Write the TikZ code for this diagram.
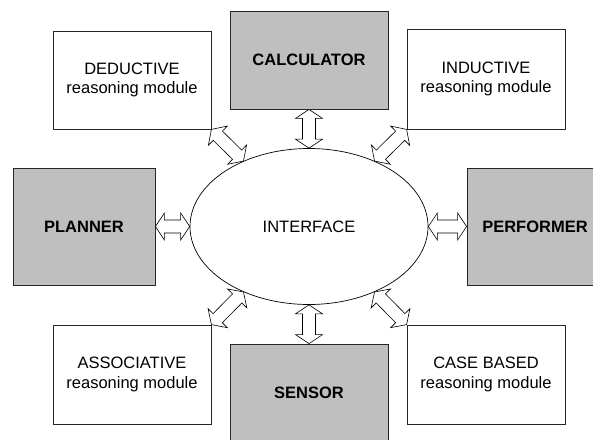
\documentclass[tikz,border=0pt]{standalone}
\usepackage{fontspec}
\setmainfont{Liberation Sans}
\usetikzlibrary{shapes.geometric,calc}
\newcommand{\hlen}{9pt}
\newcommand{\hwid}{13.5pt}
\newcommand{\swid}{6.5pt}
\newcommand{\dblarr}[2]{%
  \path (#1) coordinate (da-s) (#2) coordinate (da-e);
  \path ($(da-s)!\hlen!(da-e)$) coordinate (da-a) ($(da-e)!\hlen!(da-s)$) coordinate (da-b);
  \draw[blockarrow] (da-s) -- ($(da-a)!\hwid!90:(da-e)$) -- ($(da-a)!\swid!90:(da-e)$)
    -- ($(da-b)!\swid!-90:(da-s)$) -- ($(da-b)!\hwid!-90:(da-s)$) -- (da-e)
    -- ($(da-b)!\hwid!90:(da-s)$) -- ($(da-b)!\swid!90:(da-s)$)
    -- ($(da-a)!\swid!-90:(da-e)$) -- ($(da-a)!\hwid!-90:(da-e)$) -- cycle;
}
\begin{document}
\begin{tikzpicture}[x=1pt,y=-1pt,
  every node/.style={font=\fontsize{16.5}{19.5}\selectfont},
  module/.style={draw=black!85, line width=0.8pt, fill=white, minimum width=158pt, minimum height=98pt, align=center, inner sep=0pt},
  unit/.style={draw=black!85, line width=0.8pt, fill=gray!50, minimum width=158pt, minimum height=98pt, align=center, inner sep=0pt, font=\fontsize{16.5}{19.5}\selectfont\bfseries},
  blockarrow/.style={draw=black, line width=0.6pt, fill=white, line join=miter}]
\useasboundingbox (0,0) rectangle (593,439);
\clip (0,0) rectangle (593,439);
\node[module] (ded) at (132,80) {DEDUCTIVE\\reasoning module};
\node[unit] (calc) at (309,60) {CALCULATOR};
\node[module, minimum height=100pt] (ind) at (486,79) {INDUCTIVE\\reasoning module};
\node[unit, minimum width=142pt, minimum height=117pt] (plan) at (84,226.5) {PLANNER};
\node[unit, minimum width=136pt, minimum height=117pt] (perf) at (535,226.5) {PERFORMER};
\node[module, minimum height=99pt] (assoc) at (132,374.5) {ASSOCIATIVE\\reasoning module};
\node[unit] (sens) at (309,393) {SENSOR};
\node[module, minimum height=99pt] (case) at (486,374.5) {CASE BASED\\reasoning module};
\node[ellipse, draw=black, line width=0.7pt, fill=white, minimum width=238pt, minimum height=156pt, inner sep=0pt] (iface) at (309,226.5) {INTERFACE};
\dblarr{calc.south}{iface.north}
\dblarr{sens.north}{iface.south}
\dblarr{plan.east}{iface.west}
\dblarr{perf.west}{iface.east}
\dblarr{ded.south east}{iface.135}
\dblarr{ind.south west}{iface.45}
\dblarr{assoc.north east}{iface.225}
\dblarr{case.north west}{iface.-45}
\end{tikzpicture}
\end{document}
